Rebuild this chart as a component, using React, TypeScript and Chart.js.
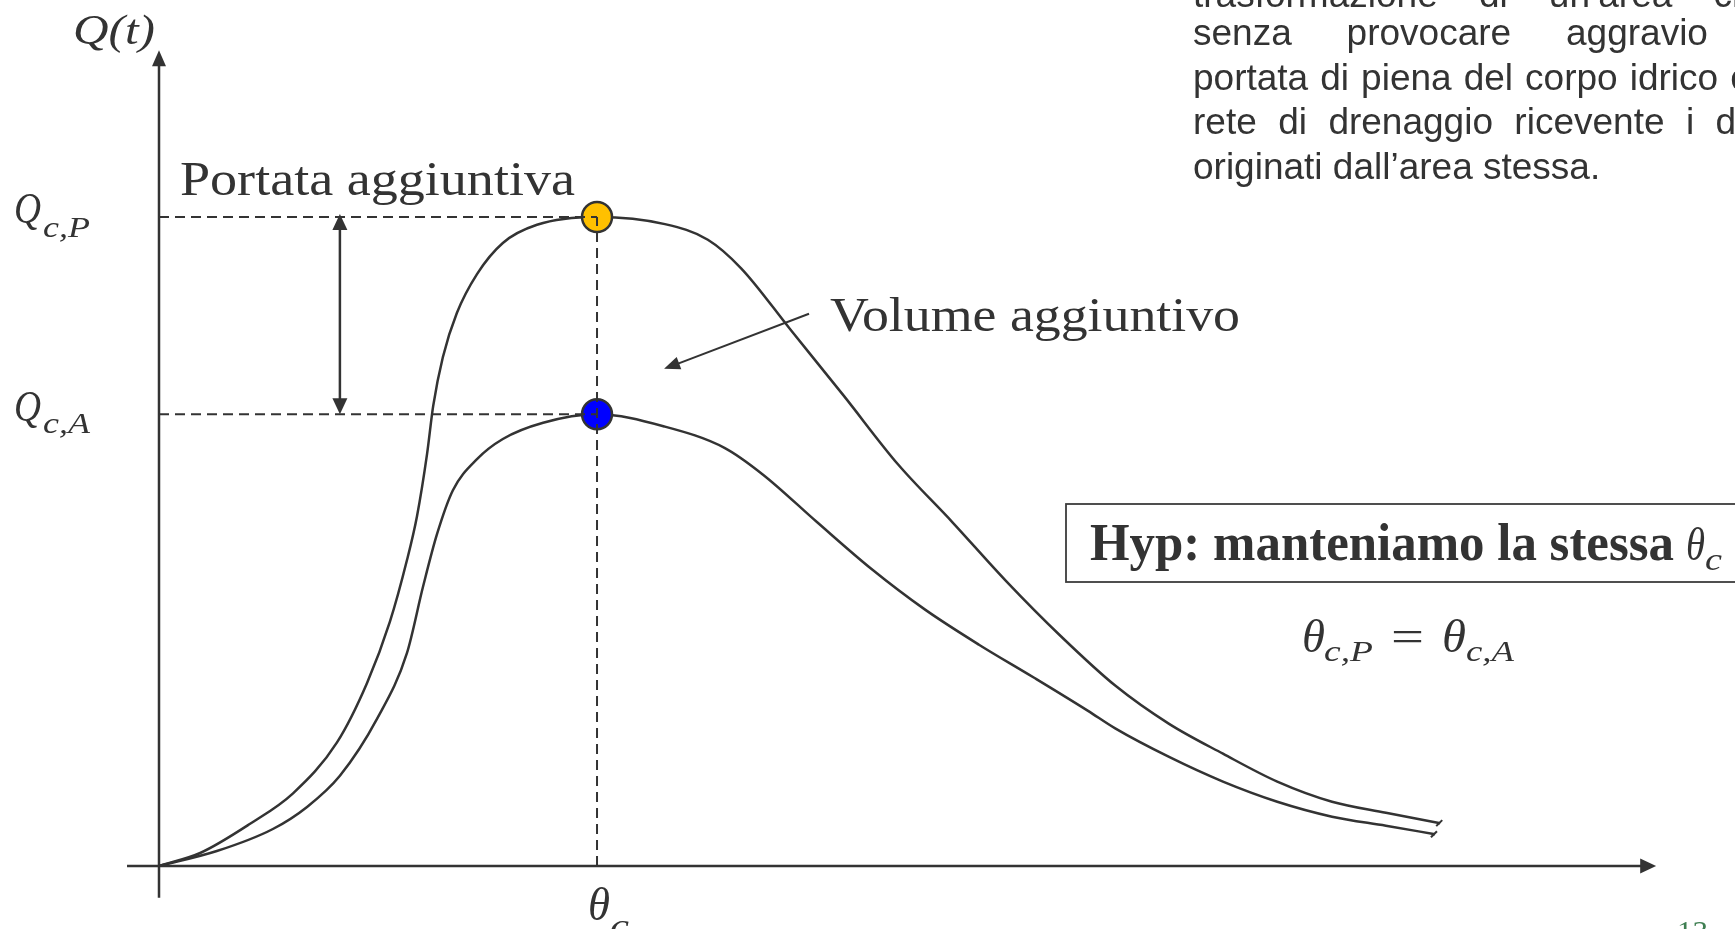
import React, { useEffect, useRef } from 'react';
import { Chart, registerables } from 'chart.js';
Chart.register(...registerables);

// ---- data (t in units of theta_c, Q in units of Q_c,P) ----
const thetaC = 1.0;
const QcP = 1.0;
const QcA = 0.696;

// post-transformation hydrograph (upper curve)
const tPost = [0, 0.094, 0.208, 0.306, 0.406, 0.475, 0.527, 0.566, 0.589, 0.612, 0.626, 0.648, 0.68, 0.726, 0.785, 0.863, 1.0, 1.155, 1.253, 1.329, 1.441, 1.564, 1.687, 1.811, 1.934, 2.059, 2.183, 2.306, 2.429, 2.553, 2.678, 2.801, 2.925];
const qPost = [0, 0.02, 0.065, 0.112, 0.19, 0.282, 0.376, 0.471, 0.539, 0.635, 0.709, 0.784, 0.852, 0.912, 0.96, 0.988, 1.0, 0.989, 0.965, 0.921, 0.827, 0.724, 0.619, 0.53, 0.439, 0.354, 0.278, 0.219, 0.173, 0.13, 0.099, 0.082, 0.066];

// ante-transformation hydrograph (lower curve)
const tAnte = [0, 0.132, 0.26, 0.338, 0.413, 0.498, 0.566, 0.603, 0.635, 0.671, 0.726, 0.785, 0.877, 1.0, 1.155, 1.292, 1.379, 1.502, 1.626, 1.749, 1.872, 1.998, 2.121, 2.183, 2.306, 2.429, 2.553, 2.678, 2.801, 2.913];
const qAnte = [0, 0.023, 0.057, 0.091, 0.139, 0.227, 0.328, 0.431, 0.512, 0.579, 0.627, 0.658, 0.683, 0.696, 0.677, 0.644, 0.603, 0.53, 0.458, 0.395, 0.341, 0.29, 0.239, 0.212, 0.168, 0.13, 0.099, 0.076, 0.062, 0.049];

// axis extents
const tRange = [-0.363, 3.598];
const qRange = [-0.0971, 1.3344];
const tAxis = [-0.073, 3.418];
const qAxis = [-0.049, 1.257];
const deltaT = 0.413; // double arrow position
const volFrom = [1.484, 0.851];
const volTip = [1.153, 0.766];

// texts
const paraLines = [
  'trasformazione di un\u2019area che si',
  'senza provocare aggravio della',
  'portata di piena del corpo idrico o della',
  'rete di drenaggio ricevente i deflussi',
  'originati dall\u2019area stessa.',
];
const labelAdd = 'Portata aggiuntiva';
const labelVol = 'Volume aggiuntivo';
const hypText = 'Hyp: manteniamo la stessa';

const INK = '#333333';

function pts(ts: number[], qs: number[]) {
  return ts.map((t, i) => ({ x: t, y: qs[i] }));
}

function txt(ctx: CanvasRenderingContext2D, s: string, x: number, y: number, font: string, w?: number) {
  ctx.save();
  ctx.font = font;
  ctx.textAlign = 'left';
  ctx.textBaseline = 'alphabetic';
  const m = ctx.measureText(s).width;
  ctx.translate(x, y);
  if (w && m > 0) ctx.scale(w / m, 1);
  ctx.fillText(s, 0, 0);
  ctx.restore();
}

function head(ctx: CanvasRenderingContext2D, tx: number, ty: number, dx: number, dy: number, len: number, wid: number) {
  const n = Math.hypot(dx, dy);
  const ux = dx / n, uy = dy / n;
  const bx = tx - ux * len, by = ty - uy * len;
  ctx.beginPath();
  ctx.moveTo(tx, ty);
  ctx.lineTo(bx - uy * wid / 2, by + ux * wid / 2);
  ctx.lineTo(bx + uy * wid / 2, by - ux * wid / 2);
  ctx.closePath();
  ctx.fill();
}

const annot = {
  id: 'annot',
  afterDatasetsDraw(chart: any) {
    const { ctx, scales } = chart;
    const X = (v: number) => scales.x.getPixelForValue(v);
    const Y = (v: number) => scales.y.getPixelForValue(v);
    ctx.save();
    ctx.fillStyle = INK;
    ctx.strokeStyle = INK;
    // arrow heads
    head(ctx, X(tAxis[1]), Y(0), 1, 0, 16, 15);
    head(ctx, X(0), Y(qAxis[1]), 0, -1, 16, 14);
    head(ctx, X(deltaT), Y(QcP) - 3, 0, -1, 16, 15);
    head(ctx, X(deltaT), Y(QcA), 0, 1, 16, 15);
    head(ctx, X(volTip[0]), Y(volTip[1]), X(volTip[0]) - X(volFrom[0]), Y(volTip[1]) - Y(volFrom[1]), 16, 13);

    // small end marks of the hydrographs
    ctx.lineWidth = 2;
    [[tPost, qPost], [tAnte, qAnte]].forEach(([ts, qs]) => {
      const ex = X(ts[ts.length - 1]), ey = Y(qs[qs.length - 1]);
      ctx.beginPath();
      ctx.moveTo(ex - 4, ey + 3);
      ctx.lineTo(ex + 2, ey - 3);
      ctx.stroke();
    });

    const it = (s: number) => `italic ${s}px "Liberation Serif"`;
    // axis labels
    txt(ctx, 'Q(t)', X(0) - 86, Y(qAxis[1]) - 6, it(42), 82);
    txt(ctx, 'Q', 14, Y(QcP) + 6, it(44), 27);
    txt(ctx, 'c,P', 43, Y(QcP) + 20, it(29), 47);
    txt(ctx, 'Q', 14, Y(QcA) + 7, it(44), 27);
    txt(ctx, 'c,A', 43, Y(QcA) + 19, it(29), 47);
    txt(ctx, '\u03b8', X(thetaC) - 9, Y(0) + 54, it(46), 22);
    txt(ctx, 'c', X(thetaC) + 13, Y(0) + 71, it(34), 19);

    // annotations
    txt(ctx, labelAdd, 180, Y(QcP) - 22, '48px "Liberation Serif"', 395);
    txt(ctx, labelVol, X(volFrom[0]) + 21, Y(volFrom[1]) + 17, '48px "Liberation Serif"', 410);

    // hypothesis box
    ctx.lineWidth = 1.8;
    ctx.strokeStyle = '#3c3c3c';
    ctx.strokeRect(1066, 504, 720, 78);
    txt(ctx, hypText, 1090, 560, 'bold 52px "Liberation Serif"', 584);
    txt(ctx, '\u03b8', 1686, 560, it(46), 19);
    txt(ctx, 'c', 1705, 570, it(32), 17);

    // equation
    txt(ctx, '\u03b8', 1302, 652, it(46), 23);
    txt(ctx, 'c,P', 1324, 661, it(30), 49);
    txt(ctx, '=', 1391, 651, '44px "Liberation Serif"', 33);
    txt(ctx, '\u03b8', 1442, 652, it(46), 24);
    txt(ctx, 'c,A', 1466, 661, it(30), 48);

    // paragraph (justified)
    const L = 1193, R = 1841;
    const base = [7, 45, 89.5, 134, 178.5];
    ctx.font = '37px "Liberation Sans"';
    paraLines.forEach((line, i) => {
      if (i === paraLines.length - 1) {
        txt(ctx, line, L, base[i], '37px "Liberation Sans"');
        return;
      }
      const words = line.split(' ');
      const ws = words.map((w) => ctx.measureText(w).width);
      const total = ws.reduce((a, b) => a + b, 0);
      const gap = (R - L - total) / (words.length - 1);
      let xx = L;
      words.forEach((w, k) => {
        txt(ctx, w, xx, base[i], '37px "Liberation Sans"');
        xx += ws[k] + gap;
      });
    });

    // page number
    ctx.fillStyle = '#3f7f52';
    txt(ctx, '13', 1677, 941, '30px "Liberation Serif"', 31);
    ctx.restore();
  },
};

export default function App() {
  const ref = useRef<HTMLCanvasElement>(null);
  useEffect(() => {
    const dashed = { borderColor: INK, borderWidth: 2, borderDash: [10, 6], pointRadius: 0, fill: false };
    const solid = { borderColor: INK, borderWidth: 2.5, pointRadius: 0, fill: false };
    const chart = new Chart(ref.current as HTMLCanvasElement, {
      type: 'line',
      data: {
        datasets: [
          { label: 'post', data: pts(tPost, qPost), ...solid, cubicInterpolationMode: 'monotone', order: 5 } as any,
          { label: 'ante', data: pts(tAnte, qAnte), ...solid, cubicInterpolationMode: 'monotone', order: 5 } as any,
          { label: 'peakP', data: [{ x: thetaC, y: QcP }], showLine: false, pointRadius: 15, pointBorderWidth: 2.5, pointBackgroundColor: '#FFC000', pointBorderColor: INK, order: 3 } as any,
          { label: 'peakA', data: [{ x: thetaC, y: QcA }], showLine: false, pointRadius: 15, pointBorderWidth: 2.5, pointBackgroundColor: '#0000FF', pointBorderColor: INK, order: 3 } as any,
          { label: 'hP', data: [{ x: 0, y: QcP }, { x: thetaC, y: QcP }], ...dashed, order: 1 } as any,
          { label: 'hA', data: [{ x: 0, y: QcA }, { x: thetaC, y: QcA }], ...dashed, order: 1 } as any,
          { label: 'v', data: [{ x: thetaC, y: 0 }, { x: thetaC, y: QcP }], ...dashed, order: 1 } as any,
          { label: 'xAxis', data: [{ x: tAxis[0], y: 0 }, { x: tAxis[1] - 0.02, y: 0 }], ...solid, order: 0 } as any,
          { label: 'yAxis', data: [{ x: 0, y: qAxis[0] }, { x: 0, y: qAxis[1] - 0.02 }], ...solid, order: 0 } as any,
          { label: 'delta', data: [{ x: deltaT, y: QcA + 0.02 }, { x: deltaT, y: QcP - 0.02 }], ...solid, borderWidth: 2.5, order: 0 } as any,
          { label: 'vol', data: [{ x: volFrom[0], y: volFrom[1] }, { x: volTip[0] + 0.02, y: volTip[1] + 0.005 }], ...solid, borderWidth: 2, order: 0 } as any,
        ],
      },
      options: {
        responsive: false,
        maintainAspectRatio: false,
        animation: false,
        devicePixelRatio: 1,
        layout: { padding: 0, autoPadding: false },
        scales: {
          x: { type: 'linear', min: tRange[0], max: tRange[1], display: false },
          y: { type: 'linear', min: qRange[0], max: qRange[1], display: false },
        },
        plugins: { legend: { display: false }, tooltip: { enabled: false } },
        events: [],
      },
      plugins: [annot],
    });
    return () => chart.destroy();
  }, []);
  return (
    <div style={{ position: 'fixed', left: 0, top: 0, width: 1735, height: 929, background: '#ffffff', overflow: 'hidden' }}>
      <canvas ref={ref} width={1735} height={929} style={{ display: 'block', width: 1735, height: 929 }} />
    </div>
  );
}
